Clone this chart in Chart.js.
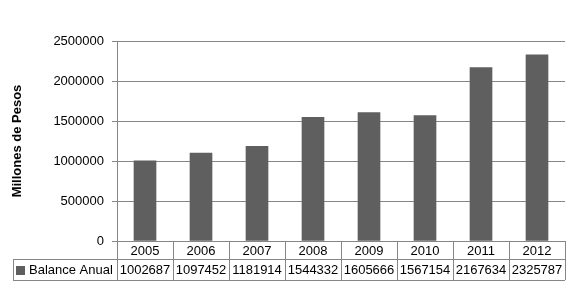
<!DOCTYPE html>
<html>
<head>
<meta charset="utf-8">
<script src="https://cdn.jsdelivr.net/npm/chart.js@4.4.1/dist/chart.umd.min.js"></script>
<style>
  html, body { margin: 0; padding: 0; background: #fff; }
  #wrap { width: 577px; height: 293px; }
</style>
</head>
<body>
<div id="wrap"><canvas id="chart" width="577" height="293"></canvas></div>
<script>
// ─── Data ──────────────────────────────────────────────
var years = ['2005', '2006', '2007', '2008', '2009', '2010', '2011', '2012'];
var balanceAnual = [1002687, 1097452, 1181914, 1544332, 1605666, 1567154, 2167634, 2325787];
var seriesName = 'Balance Anual';
var yTicks = [0, 500000, 1000000, 1500000, 2000000, 2500000];

var BAR = '#5f5f5f';
var LINE = '#868686';
var FONT = '"Liberation Sans", Arial, sans-serif';

// ─── Data table under the plot ─────────────────────────
var dataTable = {
  id: 'dataTable',
  afterDraw: function (chart) {
    var ctx = chart.ctx;
    var x = chart.scales.x;
    var area = chart.chartArea;
    var n = years.length;
    var colW = (x.right - x.left) / n;
    var top = area.bottom;
    var mid = top + 18;
    var bot = mid + 21;
    var legendLeft = 13;

    ctx.save();
    ctx.strokeStyle = LINE;
    ctx.lineWidth = 1;
    ctx.beginPath();
    // horizontal lines
    ctx.moveTo(legendLeft, mid + 0.5); ctx.lineTo(x.right, mid + 0.5);
    ctx.moveTo(legendLeft, bot + 0.5); ctx.lineTo(x.right, bot + 0.5);
    ctx.moveTo(legendLeft + 0.5, mid); ctx.lineTo(legendLeft + 0.5, bot);
    // column separators
    for (var i = 0; i <= n; i++) {
      var cx = Math.round(x.left + i * colW) + 0.5;
      ctx.moveTo(cx, top); ctx.lineTo(cx, bot);
    }
    ctx.stroke();

    ctx.fillStyle = '#000';
    ctx.font = '13px ' + FONT;
    ctx.textAlign = 'center';
    ctx.textBaseline = 'middle';
    years.forEach(function (y, i) {
      var c = x.getPixelForValue(i);
      ctx.fillText(y, c, (top + mid) / 2 + 1);
      ctx.fillText(String(balanceAnual[i]), c, (mid + bot) / 2 + 1);
    });

    // legend key + series name
    ctx.fillStyle = BAR;
    ctx.fillRect(16, Math.round((mid + bot) / 2) - 4, 9, 9);
    ctx.fillStyle = '#000';
    ctx.textAlign = 'left';
    ctx.fillText(seriesName, 29, (mid + bot) / 2 + 1);
    ctx.restore();
  }
};

// ─── Chart ─────────────────────────────────────────────
new Chart(document.getElementById('chart'), {
  type: 'bar',
  data: {
    labels: years,
    datasets: [{
      label: seriesName,
      data: balanceAnual,
      backgroundColor: BAR,
      borderWidth: 0,
      barThickness: 22
    }]
  },
  options: {
    responsive: false,
    animation: false,
    layout: { padding: { left: 0, right: 12, top: 41, bottom: 0 } },
    plugins: {
      legend: { display: false },
      tooltip: { enabled: false }
    },
    scales: {
      x: {
        grid: { display: false },
        border: { display: false },
        ticks: { display: false },
        afterFit: function (s) { s.height = 52; }
      },
      y: {
        min: 0,
        max: 2500000,
        afterBuildTicks: function (s) {
          s.ticks = yTicks.map(function (v) { return { value: v }; });
        },
        afterFit: function (s) { s.width = 117; },
        grid: { color: LINE, tickLength: 5, tickColor: LINE },
        border: { display: true, color: LINE },
        ticks: {
          color: '#000',
          padding: 8,
          font: { family: FONT, size: 13 },
          callback: function (v) { return String(v); }
        },
        title: {
          display: true,
          text: 'Millones de Pesos',
          color: '#000',
          font: { family: FONT, size: 13, weight: 'bold' },
          padding: { top: 10, bottom: 0 }
        }
      }
    }
  },
  plugins: [dataTable]
});
</script>
</body>
</html>
